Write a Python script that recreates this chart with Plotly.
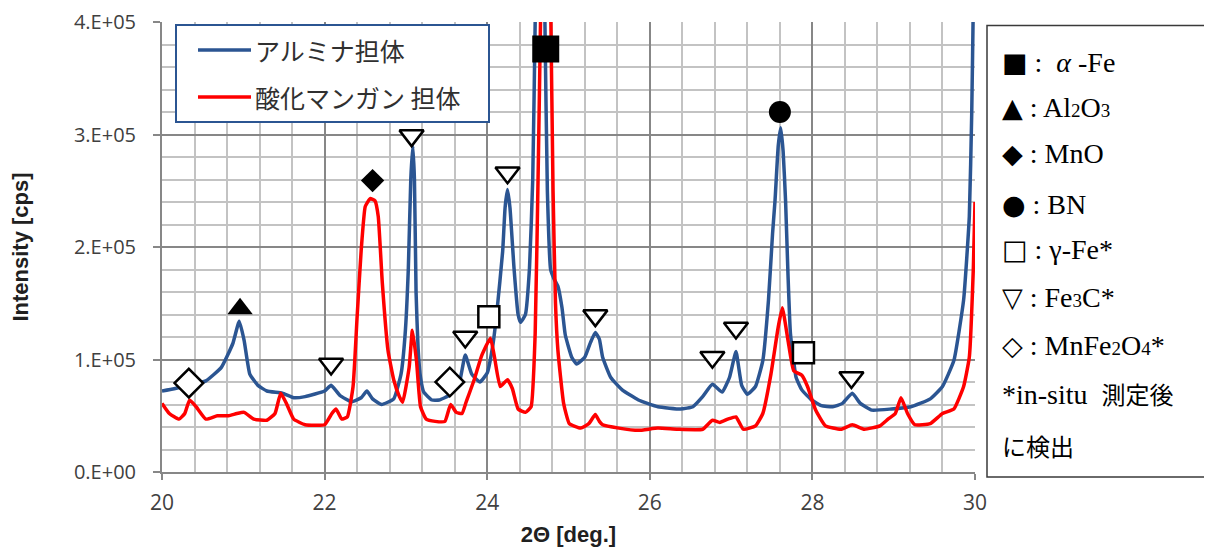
import plotly.graph_objects as go

# ---------------- data ----------------
blue_name = "アルミナ担体"
red_name = "酸化マンガン 担体"

blue_x = [20.00, 20.15, 20.33, 20.54, 20.73, 20.87, 20.95, 21.01, 21.08, 21.18, 21.29, 21.48, 21.62, 21.76,
          22.00, 22.08, 22.19, 22.33, 22.45, 22.52, 22.59, 22.70, 22.85, 22.94, 22.99, 23.03, 23.06, 23.085,
          23.105, 23.125, 23.15, 23.18, 23.22, 23.32, 23.41, 23.53, 23.65, 23.73, 23.81, 23.91, 24.00, 24.07,
          24.12, 24.19, 24.22, 24.25, 24.28, 24.33, 24.38, 24.41, 24.47, 24.52, 24.56, 24.59, 24.65, 24.71,
          24.74, 24.78, 24.82, 24.87, 24.92, 24.96, 25.04, 25.10, 25.20, 25.27, 25.33, 25.38, 25.42, 25.52,
          25.66, 25.86, 26.10, 26.38, 26.53, 26.65, 26.77, 26.89, 26.98, 27.06, 27.13, 27.20, 27.30, 27.39,
          27.46, 27.51, 27.54, 27.58, 27.61, 27.64, 27.67, 27.70, 27.73, 27.80, 27.87, 27.99, 28.11, 28.25,
          28.37, 28.49, 28.59, 28.73, 28.97, 29.21, 29.45, 29.60, 29.74, 29.86, 29.93, 29.96, 29.98, 30.00]
blue_y = [72, 74, 77, 81, 93, 114, 134, 117, 87, 77, 72, 70, 66, 67,
          72, 77, 68, 62.5, 66, 72, 65, 60, 65, 87, 122, 181, 260, 290,
          260, 160, 110, 84, 71, 64, 64, 68, 77, 104, 87, 80, 88, 113,
          143, 196, 235, 251, 235, 181, 140, 133, 140, 181, 260, 400, 700, 400,
          250, 180, 172, 165, 146, 122, 102, 96, 102, 115, 124, 118, 102, 84,
          73, 64, 58, 56, 58, 67, 78, 71, 84, 107, 77, 69, 76, 99,
          153, 212, 241, 290, 306, 285, 241, 175, 123, 84, 73, 64, 59, 58,
          61, 70, 61, 55, 56, 58, 65, 76, 99, 153, 227, 320, 420, 520]

red_x = [20.00, 20.09, 20.21, 20.28, 20.34, 20.42, 20.54, 20.68, 20.82, 20.92, 21.01, 21.13, 21.29, 21.39,
         21.46, 21.53, 21.62, 21.76, 22.00, 22.09, 22.14, 22.21, 22.28, 22.35, 22.40, 22.45, 22.50, 22.56,
         22.62, 22.66, 22.71, 22.78, 22.85, 22.92, 22.96, 23.04, 23.08, 23.13, 23.18, 23.25, 23.36, 23.48,
         23.55, 23.62, 23.69, 23.74, 23.84, 23.93, 24.04, 24.09, 24.16, 24.25, 24.31, 24.38, 24.47, 24.54,
         24.59, 24.63, 24.66, 24.72, 24.78, 24.81, 24.84, 24.87, 24.94, 25.01, 25.15, 25.25, 25.33, 25.38,
         25.42, 25.62, 25.86, 26.10, 26.34, 26.65, 26.77, 26.86, 26.96, 27.06, 27.15, 27.30, 27.39, 27.49,
         27.58, 27.63, 27.70, 27.77, 27.87, 27.94, 28.04, 28.16, 28.35, 28.49, 28.64, 28.83, 28.93, 29.02,
         29.09, 29.17, 29.26, 29.45, 29.60, 29.74, 29.86, 29.93, 29.98, 30.00]
red_y = [61, 52, 47, 52, 64, 58, 47, 50, 50, 52, 53, 47, 46, 52,
         70, 61, 47, 42, 42, 52, 56, 47, 49, 76, 138, 197, 236, 243,
         241, 227, 168, 108, 82, 67, 62, 93, 126, 99, 58, 47, 45, 45,
         60, 53, 52, 62, 82, 103, 119, 102, 76, 82, 74, 56, 53, 58,
         123, 280, 420, 700, 420, 250, 150, 108, 61, 43, 39, 43, 51, 45,
         42, 39, 37, 39, 38, 38, 46, 44, 47, 49, 38, 41, 52, 87,
         129, 146, 117, 90, 86, 76, 55, 41, 38, 42, 38, 41, 47, 52,
         66, 52, 42, 43, 52, 56, 76, 102, 182, 240]

# peak assignments (marker positions, 2θ and intensity in k cps)
afe_x, afe_y = [24.72], [376]
al2o3_x, al2o3_y = [20.96], [145]
mno_x, mno_y = [22.59], [259]
bn_x, bn_y = [27.60], [320]
gfe_x, gfe_y = [24.02, 27.89], [138, 106]
fe3c_x = [22.08, 23.07, 23.73, 24.25, 25.33, 26.77, 27.06, 28.48]
fe3c_y = [96, 299, 120, 266, 139, 102, 128, 84]
mnfe2o4_x, mnfe2o4_y = [20.33, 23.54], [79, 80]

SYM = '<span style="font-family:DejaVu Sans;font-size:27px">'
CJK = '<span style="font-family:Noto Sans CJK JP;font-size:24px">'
SUB = '<span style="font-size:19px">'
phase_labels = [SYM + "■</span> :  <i>α</i> -Fe",
                SYM + "▲</span> : Al" + SUB + "2</span>O" + SUB + "3</span>",
                SYM + "◆</span> : MnO",
                SYM + "●</span> : BN",
                SYM + "□</span> : γ-Fe*",
                SYM + "▽</span> : Fe" + SUB + "3</span>C*",
                SYM + "◇</span> : MnFe" + SUB + "2</span>O" + SUB + "4</span>*",
                "*in-situ  " + CJK + "測定後</span>",
                CJK + "に検出</span>"]

y_tickvals = [0, 100000, 200000, 300000, 400000]
y_ticktext = ["0.E+00", "1.E+05", "2.E+05", "3.E+05", "4.E+05"]
x_tickvals = [20, 22, 24, 26, 28, 30]

K = 1000
BLUE = "#2b5592"
RED = "#ff0000"
MAJ = "#878787"
MIN = "#c3c3c3"
TICKFONT = "Open Sans, Liberation Sans, sans-serif"
TITLEFONT = "Liberation Sans, Arial, sans-serif"

fig = go.Figure()
fig.add_trace(go.Scatter(x=blue_x, y=[v * K for v in blue_y], mode="lines", name=blue_name,
                         line=dict(color=BLUE, width=3.5, shape="spline", smoothing=0.4), showlegend=False))
fig.add_trace(go.Scatter(x=red_x, y=[v * K for v in red_y], mode="lines", name=red_name,
                         line=dict(color=RED, width=3.5, shape="spline", smoothing=0.4), showlegend=False))

def add_markers(xs, ys, symbol, size, filled=True):
    fig.add_trace(go.Scatter(
        x=xs, y=[v * K for v in ys], mode="markers", showlegend=False, cliponaxis=False,
        marker=dict(symbol=symbol, size=size,
                    color="black" if filled else "white",
                    line=dict(color="black", width=0 if filled else 2.5))))

add_markers(afe_x, afe_y, "square", 27)
add_markers(al2o3_x, al2o3_y, "triangle-up", 22)
add_markers(mno_x, mno_y, "diamond", 18)
add_markers(bn_x, bn_y, "circle", 22)
add_markers(gfe_x, gfe_y, "square", 21, filled=False)
add_markers(fe3c_x, fe3c_y, "triangle-down", 21, filled=False)
add_markers(mnfe2o4_x, mnfe2o4_y, "diamond", 22, filled=False)

# page geometry: the page body places the figure 8px in from the top-left corner
OFF = 8
PL, PR, PT, PB = 162, 975, 22, 472        # plot area as seen on the page
W, H = 1212, 551                          # figure size

def px(xp):
    return (xp - PL) / (PR - PL)

def py(yp):
    return (PB - yp) / (PB - PT)

# in-plot series key
fig.add_shape(type="rect", xref="paper", yref="paper", x0=px(176), x1=px(489), y0=py(122), y1=py(25),
              line=dict(color=BLUE, width=2), fillcolor="white", layer="above")
for nm, col, ry in [(blue_name, BLUE, 50), (red_name, RED, 97)]:
    fig.add_shape(type="line", xref="paper", yref="paper", x0=px(198), x1=px(251), y0=py(ry), y1=py(ry),
                  line=dict(color=col, width=3.5), layer="above")
    fig.add_annotation(xref="paper", yref="paper", x=px(253), y=py(ry), xanchor="left", yanchor="middle",
                       text=nm, showarrow=False,
                       font=dict(family="Noto Sans CJK JP", size=25, color="#303030"))

# right-hand key box
fig.add_shape(type="rect", xref="paper", yref="paper", x0=px(987), x1=px(1240), y0=py(477), y1=py(25.5),
              line=dict(color="#3a3a3a", width=1.5), fillcolor="white", layer="above")
row_y = [62, 107, 153, 204, 250, 297, 345, 393, 445]
for lab, ry in zip(phase_labels, row_y):
    fig.add_annotation(xref="paper", yref="paper", x=px(1000), y=py(ry), xanchor="left", yanchor="middle",
                       text=lab, showarrow=False,
                       font=dict(family="Liberation Serif, DejaVu Sans, Noto Sans CJK JP", size=28,
                                 color="black"))

fig.update_layout(
    width=W, height=H,
    margin=dict(l=PL - OFF, r=W - (PR - OFF), t=PT - OFF, b=H - (PB - OFF), pad=0, autoexpand=False),
    paper_bgcolor="white", plot_bgcolor="white",
    font=dict(family="Noto Sans CJK JP, Noto Sans", color="#404040"),
    showlegend=False,
    xaxis=dict(range=[20, 30], tickvals=x_tickvals, ticks="outside", ticklen=6, tickwidth=2, tickcolor=MAJ,
               showline=True, linecolor=MAJ, linewidth=2, mirror=False, automargin=False,
               showgrid=True, gridcolor=MAJ, gridwidth=2, zeroline=False,
               minor=dict(tick0=20, dtick=0.4, showgrid=True, gridcolor=MIN, gridwidth=2),
               tickfont=dict(family=TICKFONT, size=21, color="#404040"), ticklabelstandoff=5,
               ticklabeloverflow="allow",
               title=dict(text="<b>2Θ [deg.]</b>", standoff=11,
                          font=dict(family=TITLEFONT, size=22, color="#202020"))),
    yaxis=dict(range=[0, 400000], tickvals=y_tickvals, ticktext=y_ticktext, ticks="outside", ticklen=7,
               tickwidth=2, tickcolor=MAJ, showline=True, linecolor=MAJ, linewidth=2, automargin=False,
               showgrid=True, gridcolor=MAJ, gridwidth=2, zeroline=False,
               minor=dict(tick0=0, dtick=20000, showgrid=True, gridcolor=MIN, gridwidth=2),
               tickfont=dict(family=TICKFONT, size=20, color="#404040"), ticklabelstandoff=13,
               ticklabeloverflow="allow",
               title=dict(text="<b>Intensity [cps]</b>", standoff=54,
                          font=dict(family=TITLEFONT, size=22, color="#202020"))),
)

fig.write_html("out.html")
